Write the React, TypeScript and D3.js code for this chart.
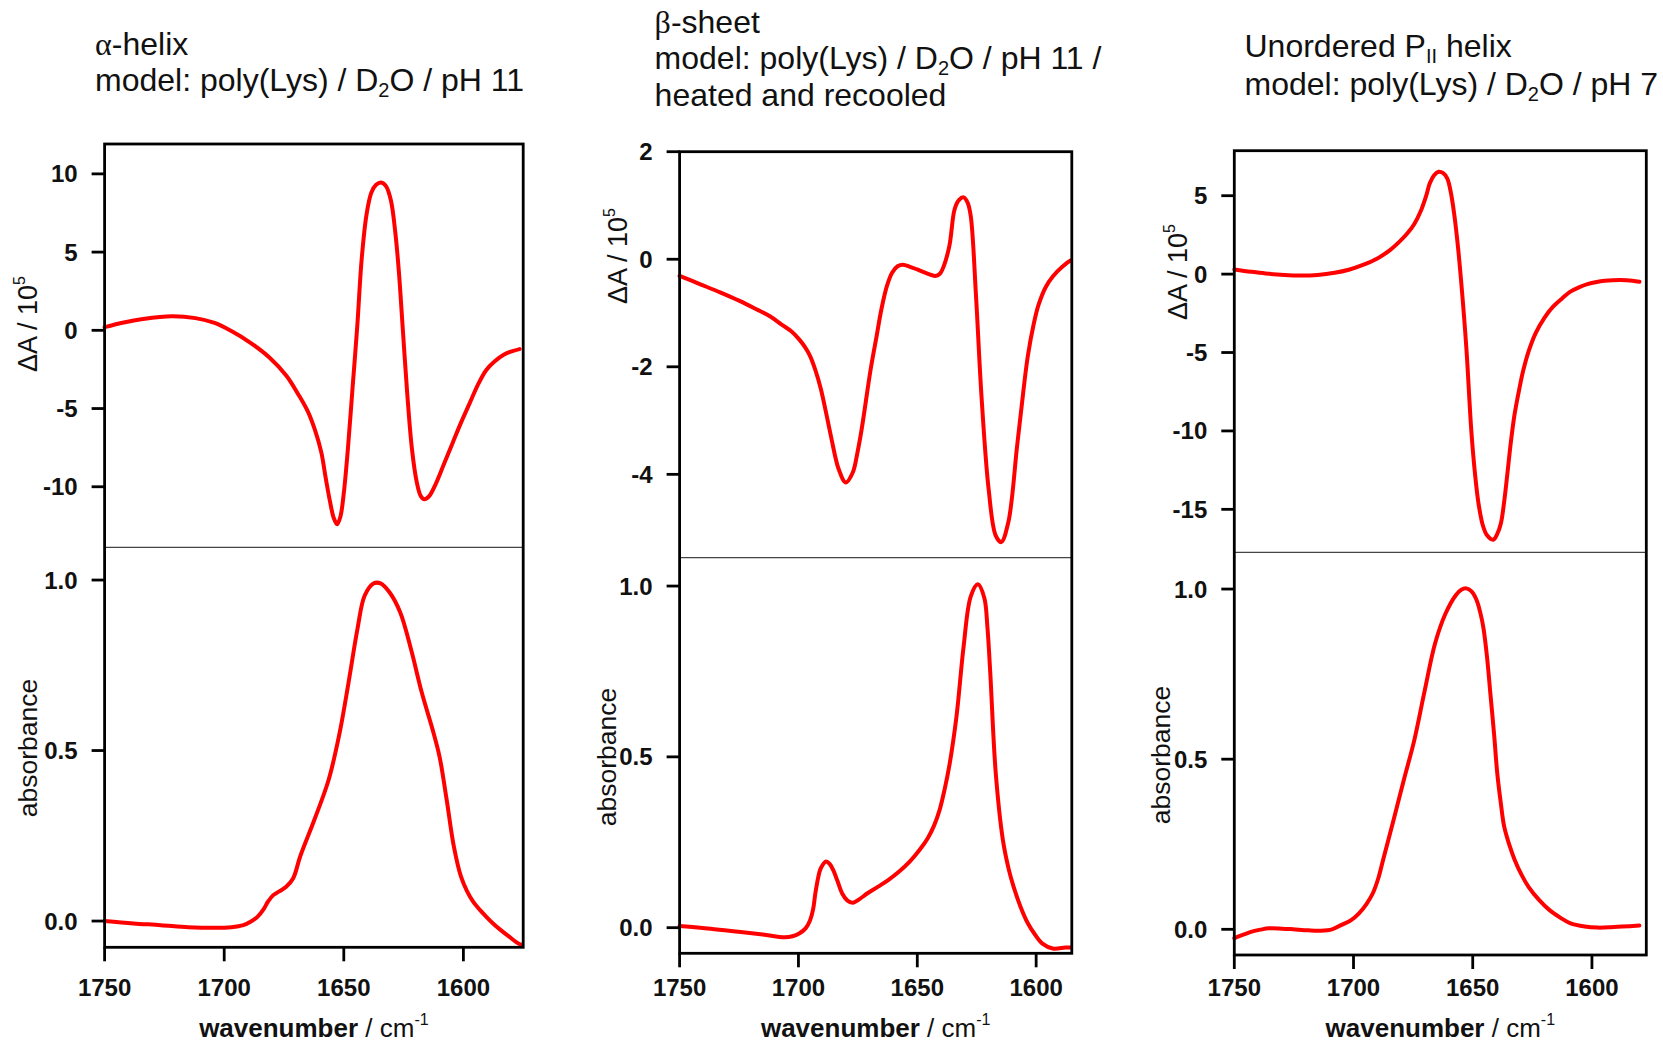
import React from 'react';
import * as d3 from 'd3';

type Pt = [number, number];

// ---------- tick values ----------
const xTicks = [1750, 1700, 1650, 1600];
const alphaDiffTicks = [10, 5, 0, -5, -10];
const betaDiffTicks = [2, 0, -2, -4];
const ppiiDiffTicks = [5, 0, -5, -10, -15];
const absTicks = [1.0, 0.5, 0.0];

// ---------- α-helix ----------
const alphaDiff: Pt[] = [
  [1750, 0.2], [1742, 0.5], [1734, 0.72], [1722, 0.9], [1712, 0.78], [1704, 0.47],
  [1697, -0.05], [1689, -0.8], [1681, -1.75], [1674, -2.9], [1669, -4.1], [1665, -5.2],
  [1662, -6.4], [1659.4, -7.8], [1657.5, -9.5], [1655.7, -11.0], [1654.2, -12.0],
  [1652.8, -12.4], [1651.4, -11.9], [1650, -10.4], [1648.3, -7.6], [1646.3, -3.6],
  [1644.4, 0.2], [1642.5, 4.6], [1640.5, 7.4], [1638.5, 8.8], [1636.5, 9.3],
  [1634.4, 9.45], [1632.3, 9.2], [1630.3, 8.3], [1628.5, 6.3], [1627, 3.8], [1625.3, 0],
  [1623.5, -4.0], [1621.5, -7.6], [1619.5, -9.7], [1617.8, -10.6], [1616.3, -10.8],
  [1614.3, -10.6], [1611.5, -9.8], [1608, -8.5], [1604.5, -7.2], [1601, -5.9],
  [1597.5, -4.7], [1594, -3.5], [1590.5, -2.55], [1587, -2.0], [1583, -1.55],
  [1579.5, -1.33], [1576.5, -1.2],
];
const alphaAbs: Pt[] = [
  [1750, 0.0], [1738, -0.007], [1726.5, -0.012], [1715, -0.018], [1704, -0.02],
  [1697, -0.018], [1692, -0.012], [1689, -0.002], [1686, 0.013], [1683.5, 0.035],
  [1681.7, 0.057], [1679.5, 0.076], [1677, 0.087], [1674.2, 0.1], [1671.2, 0.125],
  [1668.2, 0.19], [1662.3, 0.297], [1656.3, 0.415], [1651.8, 0.55], [1648, 0.7],
  [1644.3, 0.856], [1641.3, 0.954], [1637.6, 0.99], [1634.6, 0.99], [1630.9, 0.964],
  [1626.4, 0.905], [1621.9, 0.797], [1617.4, 0.67], [1612.9, 0.562], [1610, 0.483],
  [1607, 0.356], [1604, 0.219], [1601, 0.13], [1598.5, 0.088], [1596, 0.058],
  [1593, 0.032], [1590.5, 0.013], [1587.5, -0.008], [1584.5, -0.026], [1581, -0.045],
  [1577, -0.066], [1575.5, -0.07],
];

// ---------- β-sheet ----------
const betaDiff: Pt[] = [
  [1750, -0.31], [1741, -0.47], [1732.7, -0.62], [1725, -0.77], [1717.7, -0.93],
  [1712, -1.06], [1707.2, -1.21], [1703, -1.34], [1699.7, -1.49], [1697.3, -1.63],
  [1695.1, -1.8], [1692.8, -2.07], [1690.6, -2.41], [1688.3, -2.87], [1686.1, -3.34],
  [1683.1, -3.9], [1680.1, -4.15], [1677.1, -3.96], [1675.2, -3.6], [1673.4, -3.16],
  [1669.6, -2.04], [1667, -1.4], [1665.1, -0.93], [1662.8, -0.5], [1660.6, -0.25],
  [1658.3, -0.13], [1656.1, -0.1], [1653, -0.14], [1650.1, -0.19], [1645.5, -0.27],
  [1642.5, -0.31], [1640.5, -0.27], [1638.8, -0.12], [1636.5, 0.25], [1634.3, 0.93],
  [1632.5, 1.1], [1630.5, 1.15], [1628.8, 1.05], [1627.5, 0.8], [1625.3, -0.68],
  [1623, -2.54], [1620, -4.27], [1617, -5.14], [1614.7, -5.26], [1611.7, -4.89],
  [1608, -3.47], [1605.5, -2.5], [1603.5, -1.8], [1601, -1.2], [1599, -0.85],
  [1596, -0.52], [1593, -0.32], [1589, -0.14], [1585.4, -0.02],
];
const betaAbs: Pt[] = [
  [1750, 0.005], [1737, -0.003], [1725.2, -0.012], [1715, -0.02], [1705.7, -0.028],
  [1702.5, -0.025], [1699.7, -0.017], [1697, -0.002], [1695.1, 0.022], [1693.8, 0.055],
  [1692.9, 0.1], [1691.6, 0.15], [1690.6, 0.174], [1688.4, 0.194], [1686.8, 0.186],
  [1685.4, 0.169], [1683.5, 0.135], [1681.6, 0.1], [1679.5, 0.08], [1677.1, 0.073],
  [1674, 0.085], [1671.1, 0.1], [1666.5, 0.12], [1662.1, 0.14], [1657.5, 0.165],
  [1653.1, 0.194], [1649, 0.228], [1645.6, 0.262], [1643, 0.298], [1640.6, 0.345],
  [1638.5, 0.405], [1636.5, 0.475], [1633.5, 0.619], [1630.5, 0.824], [1627.5, 0.97],
  [1624.5, 1.005], [1621.8, 0.965], [1620.5, 0.88], [1619.3, 0.746], [1617, 0.453],
  [1614, 0.257], [1611.5, 0.17], [1609.5, 0.12], [1606.5, 0.06], [1603.5, 0.013],
  [1600.5, -0.02], [1597.5, -0.046], [1593, -0.061], [1587.7, -0.058], [1585.4, -0.058],
];

// ---------- unordered PII ----------
const ppiiDiff: Pt[] = [
  [1750, 0.3], [1743, 0.15], [1736.9, 0.04], [1729, -0.05], [1722.4, -0.085],
  [1715, -0.05], [1707.9, 0.085], [1702, 0.28], [1696.3, 0.57], [1690, 1.0],
  [1684.7, 1.53], [1680.5, 2.1], [1677.4, 2.6], [1674.5, 3.2], [1671.6, 4.09],
  [1669.5, 5.0], [1668, 5.79], [1666.2, 6.3], [1664.3, 6.53], [1662.5, 6.45],
  [1660.7, 6.1], [1659.3, 5.3], [1657.8, 3.87], [1656.3, 1.9], [1654.9, -0.38],
  [1652.7, -4.64], [1650.6, -9.96], [1649, -12.8], [1647.6, -14.6], [1645.8, -16.0],
  [1644, -16.66], [1641.4, -16.94], [1639.8, -16.6], [1638.2, -15.9], [1636.8, -14.5],
  [1635.3, -12.5], [1634, -10.7], [1632.4, -8.9], [1630.5, -7.35], [1628.8, -6.13],
  [1626.5, -4.9], [1623.7, -3.79], [1620, -2.8], [1616.4, -2.09], [1612.5, -1.55],
  [1609.2, -1.13], [1605.5, -0.85], [1601.9, -0.64], [1598, -0.5], [1594.7, -0.43],
  [1588.1, -0.38], [1583, -0.42], [1580.1, -0.49],
];
const ppiiAbs: Pt[] = [
  [1750, -0.026], [1746, -0.015], [1742.7, -0.007], [1739, -0.001], [1735.5, 0.003],
  [1730, 0.002], [1725.3, 0.0], [1719, -0.003], [1713.7, -0.004], [1709, 0.0],
  [1705, 0.013], [1701, 0.027], [1697.7, 0.047], [1694.5, 0.075], [1691.9, 0.106],
  [1689.6, 0.15], [1687.6, 0.204], [1683.2, 0.321], [1678.9, 0.439], [1674.5, 0.556],
  [1670.1, 0.703], [1665.8, 0.84], [1661.4, 0.928], [1657.1, 0.982], [1654.8, 0.998],
  [1652.7, 1.002], [1650.5, 0.993], [1648.4, 0.968], [1646.8, 0.93], [1645.5, 0.885],
  [1644, 0.8], [1642.6, 0.693], [1641, 0.57], [1639.7, 0.458], [1638.2, 0.37],
  [1636.8, 0.302], [1634.5, 0.245], [1632.4, 0.204], [1629.5, 0.16], [1626.6, 0.125],
  [1622, 0.085], [1617.9, 0.057], [1613, 0.033], [1609.2, 0.018], [1603, 0.008],
  [1597.6, 0.005], [1592, 0.006], [1587.4, 0.008], [1580.1, 0.011],
];

const FONT = "'Liberation Sans', Arial, Helvetica, sans-serif";
const SERIF = "'Liberation Serif', 'Times New Roman', serif";
const RED = '#ff0000';

type Cfg = {
  left: number; right: number; top: number; mid: number; bottom: number;
  xEnd: number; diffDomain: [number, number]; absDomain: [number, number];
  diffTicks: number[]; diff: Pt[]; abs: Pt[];
  diffLabel: [number, number]; absLabel: [number, number];
  title: React.ReactNode;
};

const TITLE_SIZE = 32;

// subscript followed by the rest of the line (restores baseline)
const subThen = (s: string, rest: string) => (
  <>
    <tspan dy={6} fontSize={20}>{s}</tspan>
    <tspan dy={-6}>{rest}</tspan>
  </>
);

const panels: Cfg[] = [
  {
    left: 104.6, right: 523.2, top: 144, mid: 547.3, bottom: 947.3,
    xEnd: 1575, diffDomain: [-13.87, 11.91], absDomain: [-0.077, 1.096],
    diffTicks: alphaDiffTicks, diff: alphaDiff, abs: alphaAbs,
    diffLabel: [37, 324], absLabel: [37, 748],
    title: (
      <g>
        <text x={95} y={55}><tspan fontFamily={SERIF}>α</tspan>-helix</text>
        <text x={95} y={91}>model: poly(Lys) / D{subThen('2', 'O / pH 11')}</text>
      </g>
    ),
  },
  {
    left: 679.6, right: 1071.8, top: 151.7, mid: 557.7, bottom: 953.3,
    xEnd: 1585, diffDomain: [-5.55, 2.0], absDomain: [-0.075, 1.083],
    diffTicks: betaDiffTicks, diff: betaDiff, abs: betaAbs,
    diffLabel: [627, 256], absLabel: [616, 757],
    title: (
      <g>
        <text x={654.6} y={33}><tspan fontFamily={SERIF}>β</tspan>-sheet</text>
        <text x={654.6} y={69}>model: poly(Lys) / D{subThen('2', 'O / pH 11 /')}</text>
        <text x={654.6} y={106}>heated and recooled</text>
      </g>
    ),
  },
  {
    left: 1234.3, right: 1646.3, top: 150.7, mid: 552.3, bottom: 955,
    xEnd: 1577.2, diffDomain: [-17.74, 7.87], absDomain: [-0.0755, 1.108],
    diffTicks: ppiiDiffTicks, diff: ppiiDiff, abs: ppiiAbs,
    diffLabel: [1187, 272], absLabel: [1170, 755],
    title: (
      <g>
        <text x={1244.5} y={57}>Unordered P{subThen('II', ' helix')}</text>
        <text x={1244.5} y={95}>model: poly(Lys) / D{subThen('2', 'O / pH 7')}</text>
      </g>
    ),
  },
];

function Panel({ cfg }: { cfg: Cfg }) {
  const x = d3.scaleLinear().domain([1750, cfg.xEnd]).range([cfg.left, cfg.right]);
  const yTop = d3.scaleLinear().domain(cfg.diffDomain).range([cfg.mid, cfg.top]);
  const yBot = d3.scaleLinear().domain(cfg.absDomain).range([cfg.bottom, cfg.mid]);
  const curve = d3.curveCatmullRom.alpha(0.5);
  const lineTop = d3.line<Pt>().x(d => x(d[0])).y(d => yTop(d[1])).curve(curve);
  const lineBot = d3.line<Pt>().x(d => x(d[0])).y(d => yBot(d[1])).curve(curve);
  const TICK = 13;
  const axisW = 2.8;
  const cx = (cfg.left + cfg.right) / 2;
  return (
    <g>
      <g fontFamily={FONT} fontSize={TITLE_SIZE} fill="#111">{cfg.title}</g>
      {/* curves */}
      <path d={lineTop(cfg.diff) || ''} fill="none" stroke={RED} strokeWidth={4} strokeLinejoin="round" strokeLinecap="round" />
      <path d={lineBot(cfg.abs) || ''} fill="none" stroke={RED} strokeWidth={4} strokeLinejoin="round" strokeLinecap="round" />
      {/* divider */}
      <line x1={cfg.left} x2={cfg.right} y1={cfg.mid} y2={cfg.mid} stroke="#444" strokeWidth={1.3} />
      {/* frame */}
      <rect x={cfg.left} y={cfg.top} width={cfg.right - cfg.left} height={cfg.bottom - cfg.top}
        fill="none" stroke="#000" strokeWidth={axisW} />
      {/* y ticks top */}
      {cfg.diffTicks.map(t => (
        <g key={'dt' + t}>
          <line x1={cfg.left - TICK} x2={cfg.left} y1={yTop(t)} y2={yTop(t)} stroke="#000" strokeWidth={axisW} />
          <text x={cfg.left - 27} y={yTop(t)} textAnchor="end" dominantBaseline="central"
            fontFamily={FONT} fontWeight="bold" fontSize={24} fill="#111">{String(t)}</text>
        </g>
      ))}
      {absTicks.map(t => (
        <g key={'at' + t}>
          <line x1={cfg.left - TICK} x2={cfg.left} y1={yBot(t)} y2={yBot(t)} stroke="#000" strokeWidth={axisW} />
          <text x={cfg.left - 27} y={yBot(t)} textAnchor="end" dominantBaseline="central"
            fontFamily={FONT} fontWeight="bold" fontSize={24} fill="#111">{t.toFixed(1)}</text>
        </g>
      ))}
      {xTicks.map(t => (
        <g key={'xt' + t}>
          <line x1={x(t)} x2={x(t)} y1={cfg.bottom} y2={cfg.bottom + 14} stroke="#000" strokeWidth={axisW} />
          <text x={x(t)} y={996} textAnchor="middle" fontFamily={FONT} fontWeight="bold" fontSize={24} fill="#111">{t}</text>
        </g>
      ))}
      {/* axis labels */}
      <text transform={`translate(${cfg.diffLabel[0]},${cfg.diffLabel[1]}) rotate(-90)`} textAnchor="middle"
        fontFamily={FONT} fontSize={27} fill="#111">
        ΔA / 10<tspan dy={-12} fontSize={16}>5</tspan>
      </text>
      <text transform={`translate(${cfg.absLabel[0]},${cfg.absLabel[1]}) rotate(-90)`} textAnchor="middle"
        fontFamily={FONT} fontSize={26.5} fill="#111">absorbance</text>
      <text x={cx} y={1037} textAnchor="middle" fontFamily={FONT} fontSize={26} fill="#111">
        <tspan fontWeight="bold">wavenumber</tspan> / cm<tspan dy={-12} fontSize={16}>-1</tspan>
      </text>
    </g>
  );
}

export default function App() {
  return (
    <svg width={1663} height={1042} viewBox="0 0 1663 1042"
      style={{ position: 'absolute', left: 0, top: 0, background: '#fff', display: 'block' }}>
      <rect x={0} y={0} width={1663} height={1042} fill="#fff" />
      {panels.map((p, i) => <Panel key={i} cfg={p} />)}
    </svg>
  );
}
